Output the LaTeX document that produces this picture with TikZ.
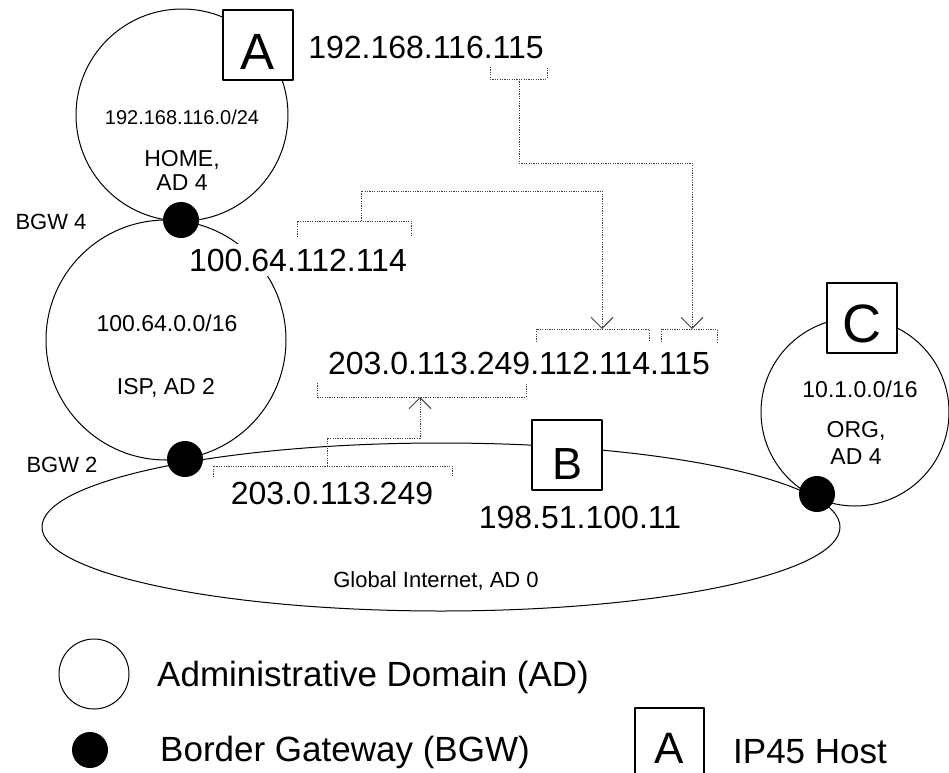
\documentclass[tikz,border=0pt]{standalone}
\usepackage{fontspec}
\setmainfont{Liberation Sans}
\usetikzlibrary{arrows.meta,shapes}
\newcommand{\pxfont}[2]{\fontsize{#1bp}{#2bp}\selectfont}

\begin{document}
\begin{tikzpicture}[>={Straight Barb[length=11bp,width=22bp]}, line join=bevel,
  ad/.style={draw, line width=1bp, inner sep=0pt},
  bgw/.style={circle, fill=black, minimum size=36bp, inner sep=0pt},
  host/.style={draw, fill=white, line width=2.5bp, minimum size=70bp, inner sep=0pt,
    text height=48bp, text depth=0pt, font=\pxfont{50}{56}},
  addr/.style={font=\pxfont{32}{38}},
  net/.style={font=\pxfont{23}{24}, align=center},
  leg/.style={anchor=west, inner sep=0pt, font=\pxfont{35}{40}},
  brk/.style={draw=black!75, line width=1bp, dash pattern=on 1.2bp off 1.2bp},
  fwd/.style={brk, ->}]
  \useasboundingbox (0,0) rectangle (949bp,-773bp);
  \clip (0,0) rectangle (949bp,-773bp);
  % Domains
  \node[ad, circle, minimum size=212bp] (home) at (182bp,-115bp) {};
  \node[ad, circle, minimum size=240bp] (isp) at (166bp,-340bp) {};
  \node[ad, ellipse, minimum width=798bp, minimum height=168bp] (glob) at (441bp,-527bp) {};
  \node[ad, circle, minimum size=188bp] (org) at (855bp,-412bp) {};

  \node[net, font=\pxfont{20}{24}] (homenet) at (182bp,-117bp) {192.168.116.0/24};
  \node[net] (homename) at (182bp,-170bp) {HOME,\\AD 4};
  \node[net] (ispnet) at (167bp,-323bp) {100.64.0.0/16};
  \node[net] (ispname) at (166bp,-388bp) {ISP, AD 2};
  \node[net] (orgnet) at (860bp,-389bp) {10.1.0.0/16};
  \node[net, font=\pxfont{23}{27}] (orgname) at (856bp,-443bp) {ORG,\\AD 4};
  \node[net, font=\pxfont{22}{24}] (globname) at (436bp,-581bp) {Global Internet, AD 0};
  \node[net, font=\pxfont{22}{24}] (bgw4lbl) at (51bp,-222bp) {BGW 4};
  \node[net, font=\pxfont{22}{24}] (bgw2lbl) at (62bp,-465bp) {BGW 2};

  % Addresses
  \node[addr] (srcaddr) at (426bp,-47bp) {192.168.116.115};
  \node[addr, fill=white, inner sep=5bp] (ispaddr) at (298bp,-260bp) {100.64.112.114};
  \node[addr] (natdaddr) at (519bp,-363bp) {203.0.113.249.112.114.115};
  \node[addr] (globaddr) at (332bp,-493bp) {203.0.113.249};
  \node[addr] (baddr) at (580bp,-517bp) {198.51.100.11};

  % Gateways
  \node[bgw] (bgw4) at (181bp,-220bp) {};
  \node[bgw] (bgw2) at (185bp,-459bp) {};
  \node[bgw] (bgworg) at (817bp,-494bp) {};

  % Hosts
  \node[host, font=\pxfont{51}{56}] (hostA) at (258bp,-45bp) {A};
  \node[host, font=\pxfont{45}{50}] (hostB) at (567bp,-455bp) {B};
  \node[host, font=\pxfont{54}{60}] (hostC) at (862bp,-318bp) {C};

  % Brackets
  \coordinate (srcl) at (490bp,-67bp);
  \coordinate (srcr) at (547bp,-67bp);
  \coordinate (srcmid) at (519bp,-79bp);
  \coordinate (ispl) at (297bp,-237bp);
  \coordinate (ispr) at (411bp,-237bp);
  \coordinate (ispmid) at (361bp,-221bp);
  \coordinate (glbl) at (213bp,-477bp);
  \coordinate (glbr) at (452bp,-477bp);
  \coordinate (glbmid) at (327bp,-466bp);

  \coordinate (t249l) at (317bp,-383bp);
  \coordinate (t249r) at (526bp,-383bp);
  \coordinate (tgt249) at (420bp,-397bp);
  \coordinate (t112l) at (536bp,-342bp);
  \coordinate (t112r) at (649bp,-342bp);
  \coordinate (tgt112) at (602bp,-329bp);
  \coordinate (t115l) at (661bp,-342bp);
  \coordinate (t115r) at (717bp,-342bp);
  \coordinate (tgt115) at (692bp,-329bp);

  \draw[brk] (srcl) -- ++(0,-12bp) -| (srcr);
  \draw[brk] (ispl) -- ++(0,16bp) -| (ispr);
  \draw[brk] (glbl) -- ++(0,11bp) -| (glbr);
  \draw[brk] (t249l) -- ++(0,-14bp) -| (t249r);
  \draw[brk] (t112l) -- ++(0,13bp) -| (t112r);
  \draw[brk] (t115l) -- ++(0,13bp) -| (t115r);

  % Edges
  \draw[fwd] (srcmid) -- ++(0,-84bp) -| (tgt115);
  \draw[fwd] (ispmid) -- ++(0,30bp) -| (tgt112);
  \draw[fwd] (glbmid) -- ++(0,28bp) -| (tgt249);

  % Legend
  \node[ad, circle, minimum size=70bp] (keyad) at (94bp,-674bp) {};
  \node[leg] (keyadtxt) at (157bp,-677bp) {Administrative Domain (AD)};
  \node[bgw] (keybgw) at (90bp,-750bp) {};
  \node[leg] (keybgwtxt) at (160bp,-752bp) {Border Gateway (BGW)};
  \coordinate (keyboxbl) at (635bp,-780bp);
  \coordinate (keyboxtl) at (635bp,-708bp);
  \coordinate (keyboxbr) at (704bp,-780bp);
  \draw[line width=2.5bp] (keyboxbl) -- (keyboxtl) -| (keyboxbr);
  \node[inner sep=0pt, font=\pxfont{44}{48}] (keyhost) at (669.5bp,-748bp) {A};
  \node[leg] (keyhosttxt) at (733bp,-752bp) {IP45 Host};
\end{tikzpicture}
\end{document}
